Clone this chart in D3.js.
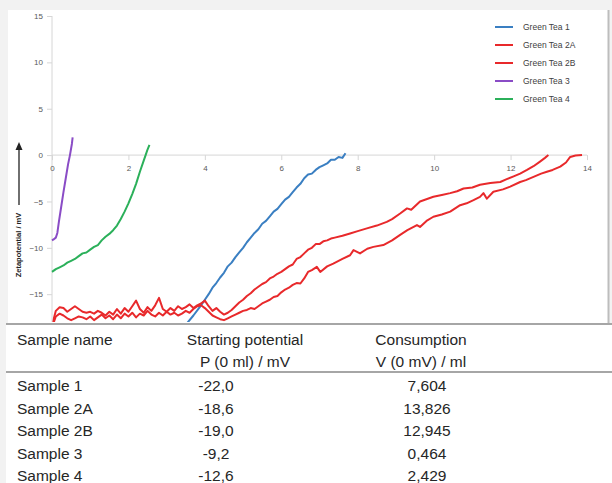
<!DOCTYPE html>
<html>
<head>
<meta charset="utf-8">
<script src="https://cdn.jsdelivr.net/npm/d3@7"></script>
<style>
  body { margin: 0; background: #f2f2f2; }
  svg { display: block; }
</style>
</head>
<body>
<div id="chart"></div>
<script>
// titration curves (x = ml, y = mV)
var seriesNames = ["Green Tea 1", "Green Tea 2A", "Green Tea 2B", "Green Tea 3", "Green Tea 4"];
var seriesColors = ["#3a7fc2", "#e8292b", "#e8292b", "#8a4cc6", "#2bb05a"];

var tea1 = [[0,-22.0],[1,-21.9],[2,-21.6],[3,-20.4],[3.3,-19.4],[3.5,-18.3],[3.7,-17.3],[3.9,-16.2],[4.0,-15.6],[4.1,-15.0],
  [4.2,-14.3],[4.3,-13.8],[4.4,-13.2],[4.5,-12.7],[4.6,-12.0],[4.7,-11.6],[4.8,-11.0],[4.9,-10.5],[5.0,-10.0],[5.1,-9.4],
  [5.2,-8.9],[5.3,-8.4],[5.4,-8.0],[5.5,-7.4],[5.6,-7.1],[5.7,-6.6],[5.8,-6.1],[5.9,-5.8],[6.0,-5.3],[6.1,-4.8],[6.2,-4.5],
  [6.3,-4.0],[6.4,-3.5],[6.5,-3.1],[6.6,-2.5],[6.7,-2.1],[6.8,-2.0],[6.9,-1.6],[7.0,-1.3],[7.1,-1.1],[7.2,-0.9],[7.3,-0.5],
  [7.4,-0.5],[7.5,-0.2],[7.6,-0.3],[7.68,0.2]];

var tea2A = [[0,-18.6],[0.05,-18.0],[0.1,-17.4],[0.2,-17.1],[0.3,-17.3],[0.4,-17.6],[0.5,-17.8],[0.6,-17.6],[0.7,-17.4],
  [0.8,-17.5],[0.9,-17.7],[1.0,-17.4],[1.1,-17.8],[1.2,-17.5],[1.3,-17.2],[1.4,-17.6],[1.5,-17.3],[1.6,-17.7],[1.7,-17.2],
  [1.8,-17.6],[1.9,-17.1],[2.0,-17.4],[2.1,-17.0],[2.2,-17.5],[2.3,-17.1],[2.4,-17.3],[2.5,-16.8],[2.6,-17.2],[2.7,-17.4],
  [2.8,-17.0],[2.9,-17.3],[3.0,-16.9],[3.1,-17.2],[3.2,-17.0],[3.3,-17.3],[3.4,-17.1],[3.5,-16.8],[3.6,-17.0],[3.7,-16.6],
  [3.8,-16.3],[3.9,-16.2],[4.0,-16.5],[4.1,-16.9],[4.2,-17.3],[4.3,-17.5],[4.4,-17.7],[4.5,-17.8],[4.6,-17.6],[4.7,-17.4],
  [4.8,-17.2],[4.9,-17.0],[5.0,-16.8],[5.1,-16.7],[5.2,-16.5],[5.3,-16.6],[5.4,-16.3],[5.5,-16.0],[5.6,-15.8],[5.7,-15.6],
  [5.8,-15.3],[5.9,-15.2],[6.0,-14.8],[6.1,-14.5],[6.2,-14.3],[6.3,-14.0],[6.4,-13.8],[6.5,-13.85],[6.6,-13.3],[6.7,-12.6],
  [6.8,-12.4],[6.93,-12.05],[7.02,-12.6],[7.2,-12.0],[7.36,-11.7],[7.6,-11.2],[7.8,-10.8],[7.89,-10.25],[8.06,-10.6],
  [8.25,-10.1],[8.41,-9.9],[8.67,-9.7],[8.9,-9.2],[9.11,-8.6],[9.3,-8.1],[9.55,-7.55],[9.63,-7.75],[9.8,-7.1],[9.98,-6.65],
  [10.2,-6.4],[10.42,-6.1],[10.68,-5.4],[10.85,-5.2],[11.03,-4.85],[11.2,-4.5],[11.29,-4.1],[11.38,-4.7],[11.55,-3.95],
  [11.8,-3.7],[11.99,-3.4],[12.25,-2.9],[12.4,-2.7],[12.6,-2.35],[12.8,-2.0],[12.95,-1.8],[13.1,-1.6],[13.3,-1.25],
  [13.45,-0.8],[13.56,-0.2],[13.7,-0.05],[13.87,0]];

var tea2B = [[0,-19.0],[0.05,-17.6],[0.1,-16.8],[0.2,-16.4],[0.3,-16.5],[0.4,-16.9],[0.5,-16.6],[0.6,-16.3],[0.7,-16.6],
  [0.8,-16.9],[0.9,-17.0],[1.0,-16.9],[1.1,-17.1],[1.2,-16.8],[1.3,-17.0],[1.4,-17.3],[1.5,-16.9],[1.6,-17.2],[1.7,-16.6],
  [1.8,-17.1],[1.9,-16.5],[2.0,-16.9],[2.1,-16.3],[2.2,-15.7],[2.3,-16.6],[2.4,-17.0],[2.5,-16.4],[2.6,-16.8],[2.7,-16.2],
  [2.8,-15.4],[2.9,-16.6],[3.0,-16.9],[3.1,-16.5],[3.2,-16.8],[3.3,-16.3],[3.4,-16.6],[3.5,-16.4],[3.6,-16.1],[3.7,-16.5],
  [3.8,-16.2],[3.9,-16.0],[4.0,-15.7],[4.1,-16.3],[4.2,-16.8],[4.3,-16.5],[4.4,-16.9],[4.5,-17.2],[4.6,-17.0],[4.7,-16.7],
  [4.8,-16.3],[4.9,-15.9],[5.0,-15.6],[5.1,-15.2],[5.2,-14.9],[5.3,-14.5],[5.4,-14.2],[5.5,-13.9],[5.6,-13.7],[5.7,-13.3],
  [5.8,-13.1],[5.9,-12.8],[6.0,-12.6],[6.1,-12.3],[6.2,-12.0],[6.3,-11.8],[6.4,-11.2],[6.5,-11.0],[6.6,-10.6],[6.7,-10.2],
  [6.8,-10.0],[6.9,-9.6],[7.0,-9.6],[7.1,-9.3],[7.2,-9.2],[7.3,-9.0],[7.4,-8.9],[7.6,-8.7],[7.8,-8.45],[8.0,-8.2],
  [8.24,-7.9],[8.5,-7.6],[8.76,-7.2],[8.9,-6.9],[9.11,-6.3],[9.29,-5.75],[9.4,-5.9],[9.63,-5.0],[9.98,-4.5],[10.2,-4.3],
  [10.42,-4.1],[10.6,-3.9],[10.77,-3.6],[11.0,-3.5],[11.2,-3.2],[11.47,-3.0],[11.73,-2.9],[11.9,-2.6],[12.08,-2.3],
  [12.25,-2.0],[12.43,-1.6],[12.6,-1.2],[12.77,-0.7],[12.9,-0.3],[12.99,0]];

var tea3 = [[0,-9.2],[0.04,-9.1],[0.1,-8.9],[0.14,-8.4],[0.18,-7.2],[0.24,-5.6],[0.3,-4.0],[0.36,-2.5],[0.42,-1.0],
  [0.47,0],[0.52,1.2],[0.54,1.9]];

var tea4 = [[0,-12.6],[0.1,-12.3],[0.2,-12.1],[0.3,-11.9],[0.4,-11.6],[0.5,-11.4],[0.6,-11.2],[0.7,-10.9],[0.8,-10.6],
  [0.9,-10.5],[1.0,-10.2],[1.1,-9.9],[1.2,-9.7],[1.3,-9.2],[1.4,-8.8],[1.5,-8.5],[1.6,-8.1],[1.7,-7.6],[1.8,-6.9],
  [1.9,-6.1],[2.0,-5.2],[2.1,-4.2],[2.2,-3.1],[2.3,-1.8],[2.4,-0.6],[2.45,0],[2.5,0.6],[2.55,1.1]];

var seriesData = [tea1, tea2A, tea2B, tea3, tea4];

var xTicks = [0, 2, 4, 6, 8, 10, 12, 14];
var yTicks = [-15, -10, -5, 0, 5, 10, 15];

// table below the chart
var tableHead1 = ["Sample name", "Starting potential", "Consumption"];
var tableHead2 = ["", "P (0 ml) / mV", "V (0 mV) / ml"];
var sampleNames = ["Sample 1", "Sample 2A", "Sample 2B", "Sample 3", "Sample 4"];
var startPotential = ["-22,0", "-18,6", "-19,0", "-9,2", "-12,6"];
var consumption = ["7,604", "13,826", "12,945", "0,464", "2,429"];

var svg = d3.select("#chart").append("svg")
    .attr("width", 612)
    .attr("height", 483);

// card backgrounds
svg.append("rect").attr("x", 8).attr("y", 10).attr("width", 600).attr("height", 313).attr("fill", "#fff");
svg.append("line").attr("x1", 608.5).attr("x2", 608.5).attr("y1", 10).attr("y2", 323)
    .attr("stroke", "#bdbdbd").attr("stroke-width", 2);
svg.append("rect").attr("x", 6).attr("y", 323).attr("width", 606).attr("height", 160).attr("fill", "#fff");

var xScale = d3.scaleLinear().domain([0, 14]).range([52, 587]);
var yScale = d3.scaleLinear().domain([-18, 15]).range([322, 16]);

svg.append("defs").append("clipPath").attr("id", "plotclip")
    .append("rect").attr("x", 8).attr("y", 10).attr("width", 598).attr("height", 312);

// y axis
var yAxis = svg.append("g")
    .attr("transform", "translate(52,0)")
    .call(d3.axisLeft(yScale).tickValues(yTicks).tickSize(5).tickPadding(4));
yAxis.select(".domain").attr("d", "M0," + yScale(15) + "V322").attr("stroke", "#d6d6d6");
yAxis.selectAll(".tick line").attr("stroke", "#d6d6d6");
yAxis.selectAll("text").attr("fill", "#595959").style("font", "8px 'Liberation Sans', Arial, sans-serif");

// x axis at zero
var xAxis = svg.append("g")
    .attr("transform", "translate(0," + yScale(0) + ")")
    .call(d3.axisBottom(xScale).tickValues(xTicks).tickSize(5).tickPadding(5));
xAxis.select(".domain").attr("d", "M52,0H587").attr("stroke", "#d6d6d6");
xAxis.selectAll(".tick line").attr("stroke", "#d6d6d6");
xAxis.selectAll("text").attr("fill", "#595959").style("font", "8px 'Liberation Sans', Arial, sans-serif");

// y title with arrow
svg.append("text")
    .attr("transform", "translate(21,245) rotate(-90)")
    .attr("text-anchor", "middle")
    .style("font", "bold 7.5px 'Liberation Sans', Arial, sans-serif")
    .attr("fill", "#222")
    .text("Zetapotential / mV");
svg.append("line").attr("x1", 19).attr("x2", 19).attr("y1", 205).attr("y2", 148)
    .attr("stroke", "#222").attr("stroke-width", 1.3);
svg.append("path").attr("d", "M15.5,150 L19,142 L22.5,150 Z").attr("fill", "#222");

var line = d3.line()
    .x(d => xScale(d[0]))
    .y(d => yScale(d[1]));

svg.append("g").attr("clip-path", "url(#plotclip)")
    .selectAll("path")
    .data(seriesData)
    .enter()
    .append("path")
    .attr("d", line)
    .attr("fill", "none")
    .attr("stroke", (d, i) => seriesColors[i])
    .attr("stroke-width", 2)
    .attr("stroke-linejoin", "round");

// legend
var legend = svg.append("g").selectAll("g")
    .data(seriesNames)
    .enter()
    .append("g")
    .attr("transform", (d, i) => `translate(495, ${27 + i * 18})`);
legend.append("line").attr("x1", 0).attr("x2", 18)
    .attr("stroke", (d, i) => seriesColors[i]).attr("stroke-width", 2);
legend.append("text").attr("x", 28).attr("y", 3)
    .style("font", "8.5px 'Liberation Sans', Arial, sans-serif")
    .attr("fill", "#404040")
    .text(d => d);

// table
var tfont = "15.5px 'Liberation Sans', Arial, sans-serif";
svg.append("line").attr("x1", 6).attr("x2", 612).attr("y1", 324).attr("y2", 324)
    .attr("stroke", "#a6a6a6").attr("stroke-width", 2);
svg.append("line").attr("x1", 6).attr("x2", 612).attr("y1", 372).attr("y2", 372)
    .attr("stroke", "#a6a6a6").attr("stroke-width", 2);

var headX = [17, 245, 421];
var headAnchor = ["start", "middle", "middle"];
svg.selectAll(".head1").data(tableHead1).enter().append("text")
    .attr("x", (d, i) => headX[i]).attr("y", 345)
    .attr("text-anchor", (d, i) => headAnchor[i])
    .style("font", tfont).attr("fill", "#262626")
    .text(d => d);
svg.selectAll(".head2").data(tableHead2).enter().append("text")
    .attr("x", (d, i) => headX[i]).attr("y", 367)
    .attr("text-anchor", (d, i) => headAnchor[i])
    .style("font", tfont).attr("fill", "#262626")
    .text(d => d);

var rowY = d3.scaleLinear().domain([0, 4]).range([391, 481]);
var rows = svg.append("g").selectAll("g")
    .data(sampleNames)
    .enter()
    .append("g")
    .attr("transform", (d, i) => `translate(0, ${rowY(i)})`);
rows.append("text").attr("x", 17).style("font", tfont).attr("fill", "#262626").text(d => d);
rows.append("text").attr("x", 216).attr("text-anchor", "middle").style("font", tfont).attr("fill", "#262626")
    .text((d, i) => startPotential[i]);
rows.append("text").attr("x", 427).attr("text-anchor", "middle").style("font", tfont).attr("fill", "#262626")
    .text((d, i) => consumption[i]);
</script>
</body>
</html>
